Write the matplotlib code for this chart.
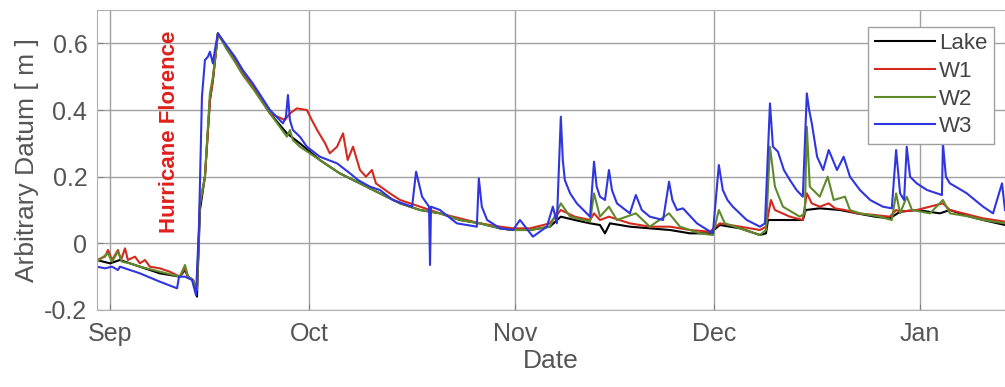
import datetime as dt
import numpy as np
import matplotlib
matplotlib.use("Agg")
import matplotlib.pyplot as plt
import matplotlib.dates as mdates

# days since 1 Sep 2018, water level relative to arbitrary datum [m]
lake_days = [-2.0, 0.0, 1.5, 4.5, 7.5, 10.5, 11.3, 11.75, 12.5, 13.1, 13.55, 14.3, 15.05, 15.5, 16.25,
             17.5, 18.8, 20.0, 21.5, 24.1, 26.65, 28.6, 31.6, 34.6, 37.65, 40.65, 43.7, 46.7, 49.7, 52.7, 55.7,
             58.75, 60.7, 63.25, 66.25, 67.9, 70.0, 72.3, 73.8, 74.55, 75.3, 78.3, 81.3, 84.35,
             87.35, 90.35, 91.85, 94.9, 97.9, 98.8, 99.1, 102.4, 104.35, 104.8, 106.9, 109.95,
             112.5, 115.2, 117.45, 119.0, 121.5, 125.0, 126.5, 129.5, 131.5, 134.8]
lake = [-0.05, -0.06, -0.05, -0.07, -0.09, -0.10, -0.08, -0.10, -0.11, -0.16, 0.10, 0.20, 0.43, 0.49, 0.63,
        0.59, 0.55, 0.51, 0.47, 0.39, 0.33, 0.30, 0.25, 0.21, 0.18, 0.15, 0.12, 0.10, 0.09, 0.07, 0.06,
        0.045, 0.04, 0.04, 0.05, 0.08, 0.07, 0.06, 0.055, 0.03, 0.06, 0.05, 0.045, 0.04,
        0.03, 0.03, 0.055, 0.045, 0.025, 0.03, 0.07, 0.07, 0.07, 0.10, 0.105, 0.10,
        0.09, 0.08, 0.075, 0.095, 0.10, 0.09, 0.10, 0.08, 0.07, 0.055]

w1_days = [-2.0, -0.75, -0.3, 0.3, 1.2, 1.66, 2.26, 2.7, 3.77, 4.5, 5.27, 6.0, 7.5, 9.0, 10.5, 11.3,
           11.75, 12.5, 13.1, 13.55, 14.3, 15.05, 15.5, 16.25, 17.5, 18.8, 20.0, 21.5, 24.1, 26.35, 27.1, 28.15,
           29.65, 30.4, 31.2, 32.4, 33.1, 34.2, 35.1, 35.8, 36.6, 37.65, 38.55, 39.45, 40.05, 42.15,
           43.7, 46.7, 49.7, 52.7, 55.7, 58.75, 60.7, 63.25, 66.25, 67.9, 70.0, 72.3, 72.9, 73.8,
           75.15, 78.3, 81.3, 84.35, 87.35, 90.35, 91.85, 94.9, 97.9, 98.8, 99.55, 100.15, 102.4,
           104.35, 104.95, 105.7, 106.9, 108.25, 109.2, 110.7, 112.5, 115.2, 117.45, 118.4, 119.0,
           121.5, 125.45, 126.5, 129.5, 131.5, 134.8]
w1 = [-0.05, -0.04, -0.02, -0.05, -0.02, -0.05, -0.015, -0.05, -0.04, -0.06, -0.05, -0.07, -0.075, -0.085, -0.10, -0.075,
      -0.10, -0.11, -0.14, 0.12, 0.20, 0.43, 0.49, 0.63, 0.59, 0.55, 0.51, 0.47, 0.39, 0.37, 0.39, 0.405,
      0.40, 0.37, 0.34, 0.30, 0.27, 0.29, 0.33, 0.25, 0.29, 0.22, 0.20, 0.22, 0.18, 0.15,
      0.13, 0.11, 0.09, 0.075, 0.06, 0.05, 0.045, 0.045, 0.06, 0.10, 0.08, 0.07, 0.09, 0.07,
      0.08, 0.06, 0.05, 0.05, 0.04, 0.035, 0.06, 0.05, 0.04, 0.05, 0.13, 0.10, 0.08,
      0.07, 0.15, 0.12, 0.11, 0.12, 0.105, 0.10, 0.09, 0.085, 0.08, 0.10, 0.095,
      0.10, 0.12, 0.10, 0.085, 0.075, 0.065]

w2_days = [-2.0, -0.3, 0.3, 1.2, 1.8, 3.0, 4.5, 7.5, 10.5, 11.3, 11.75, 12.5, 13.1, 13.55, 14.3,
           15.05, 15.5, 16.25, 17.5, 18.8, 20.0, 21.5, 24.1, 26.65, 27.1, 27.55, 28.6, 31.6, 34.6, 37.65, 40.65,
           43.7, 46.7, 49.7, 52.7, 55.7, 58.75, 60.7, 63.25, 66.25, 67.9, 69.3, 72.3, 72.9, 73.8,
           75.15, 76.35, 79.2, 81.3, 84.2, 85.85, 88.85, 90.8, 91.7, 92.6, 95.6, 97.9, 98.8, 99.4,
           100.15, 101.35, 103.9, 104.65, 104.95, 105.4, 106.9, 108.1, 109.0, 110.7, 111.45, 112.95,
           115.95, 117.75, 118.4, 119.0, 120.0, 120.8, 123.5, 125.45, 126.5, 129.5, 131.5, 134.8]
w2 = [-0.055, -0.03, -0.055, -0.025, -0.055, -0.06, -0.07, -0.085, -0.10, -0.065, -0.10, -0.11, -0.14, 0.12, 0.20,
      0.45, 0.50, 0.63, 0.585, 0.545, 0.505, 0.465, 0.39, 0.32, 0.34, 0.31, 0.29, 0.25, 0.21, 0.18, 0.15,
      0.12, 0.10, 0.09, 0.07, 0.06, 0.045, 0.04, 0.04, 0.05, 0.12, 0.08, 0.065, 0.15, 0.08,
      0.11, 0.07, 0.09, 0.05, 0.09, 0.05, 0.03, 0.025, 0.10, 0.06, 0.04, 0.025, 0.04, 0.29,
      0.17, 0.11, 0.08, 0.09, 0.35, 0.17, 0.14, 0.20, 0.13, 0.14, 0.10, 0.09,
      0.08, 0.07, 0.15, 0.09, 0.14, 0.10, 0.09, 0.13, 0.09, 0.08, 0.07, 0.06]

w3_days = [-2.0, -0.75, 0.3, 1.2, 1.5, 4.5, 7.5, 10.1, 10.4, 11.3, 12.35, 12.95, 13.4, 13.85, 14.3,
           14.75, 15.05, 15.5, 15.8, 16.25, 17.5, 18.8, 20.0, 21.5, 24.1, 26.05, 26.5, 26.8, 27.1, 27.55, 28.6,
           29.65, 31.6, 34.2, 36.15, 37.35, 39.15, 40.65, 42.6, 45.5, 46.1, 47.0, 48.05, 48.2, 48.35,
           49.7, 52.25, 55.25, 55.55, 56.0, 56.8, 58.75, 60.7, 61.75, 63.7, 65.8, 66.7, 67.3, 67.9, 68.2, 68.5,
           69.3, 70.3, 72.3, 72.9, 73.3, 73.8, 74.55, 75.15, 75.6, 76.35, 78.3, 79.2, 80.1, 81.3, 83.3, 84.2, 84.7, 85.4,
           86.3, 88.4, 90.8, 91.7, 92.3, 93.0, 93.8, 95.9, 97.9, 98.65, 99.4, 99.85, 100.6, 101.5, 102.4, 103.4, 104.35,
           104.95, 105.3, 105.7, 106.5, 107.4, 108.25, 109.5, 110.5, 111.45, 112.95, 114.5, 116.4, 117.75, 118.4,
           119.0, 119.6, 120.0, 120.5, 121.5, 123.05, 125.3, 125.45, 125.9, 126.5, 127.8, 129.05, 131.5, 133.0,
           134.35, 134.8]
w3 = [-0.07, -0.075, -0.07, -0.08, -0.07, -0.09, -0.115, -0.135, -0.10, -0.10, -0.11, -0.155, 0.05, 0.44, 0.55,
      0.56, 0.575, 0.54, 0.58, 0.63, 0.595, 0.56, 0.52, 0.48, 0.40, 0.36, 0.38, 0.445, 0.37, 0.34, 0.32,
      0.29, 0.26, 0.24, 0.21, 0.19, 0.17, 0.16, 0.13, 0.11, 0.215, 0.14, 0.11, -0.065, 0.11,
      0.10, 0.06, 0.05, 0.195, 0.11, 0.07, 0.045, 0.04, 0.07, 0.02, 0.05, 0.11, 0.06, 0.38, 0.25, 0.19,
      0.15, 0.12, 0.08, 0.245, 0.17, 0.14, 0.13, 0.22, 0.16, 0.12, 0.09, 0.145, 0.10, 0.08, 0.07, 0.185, 0.13, 0.10,
      0.105, 0.06, 0.03, 0.235, 0.16, 0.13, 0.11, 0.07, 0.05, 0.06, 0.42, 0.29, 0.275, 0.22, 0.19, 0.16, 0.14,
      0.45, 0.40, 0.36, 0.26, 0.22, 0.28, 0.22, 0.26, 0.20, 0.16, 0.13, 0.11, 0.105, 0.28,
      0.15, 0.13, 0.29, 0.20, 0.18, 0.16, 0.145, 0.30, 0.20, 0.18, 0.165, 0.15, 0.11, 0.09,
      0.18, 0.10]

start = mdates.date2num(dt.datetime(2018, 9, 1))


def to_dates(days):
    return start + np.array(days)


plt.rcParams['font.family'] = ['Liberation Sans', 'DejaVu Sans']

fig = plt.figure(figsize=(10.05, 3.87), dpi=100)
ax = fig.add_axes([0.0965, 0.199, 0.9035, 0.775])

ax.plot(to_dates(lake_days), lake, color='black', lw=1.5, label='Lake')
ax.plot(to_dates(w1_days), w1, color='#d42a1e', lw=1.5, label='W1')
ax.plot(to_dates(w2_days), w2, color='#5f8a2a', lw=1.5, label='W2')
ax.plot(to_dates(w3_days), w3, color='#2f35e0', lw=1.5, label='W3')

ax.text(start + 9.0, 0.334, 'Hurricane Florence', rotation=90, color='#e0201c',
        fontsize=16, fontweight='bold', ha='center', va='center')

ax.set_xlim(start - 1.96, start + 134.8)
ax.set_ylim(-0.2, 0.7)
ax.set_yticks([-0.2, 0, 0.2, 0.4, 0.6])
ax.set_yticklabels(['-0.2', '0', '0.2', '0.4', '0.6'])
ax.xaxis.set_major_locator(mdates.MonthLocator())
ax.xaxis.set_major_formatter(mdates.DateFormatter('%b'))

ax.grid(True, color='#a0a0a0', lw=1.0)
ax.set_axisbelow(True)
for s in ax.spines.values():
    s.set_color('#b0b0b0')
ax.tick_params(direction='in', length=4, color='#808080', labelsize=18, labelcolor='#555555')
ax.tick_params(axis='x', pad=9)
ax.tick_params(axis='y', pad=7)

ax.set_xlabel('Date', fontsize=19, color='#555555', labelpad=2)
ax.set_ylabel('Arbitrary Datum [ m ]', fontsize=19, color='#555555', labelpad=4)

leg = ax.legend(loc='upper right', bbox_to_anchor=(0.988, 0.945), fontsize=16,
                handlelength=2.7, handletextpad=0.2, labelspacing=0.3, borderpad=0.3,
                borderaxespad=0, fancybox=False, framealpha=1, edgecolor='#a0a0a0')
for t in leg.get_texts():
    t.set_color('#444444')

fig.savefig('out.png', dpi=100)
